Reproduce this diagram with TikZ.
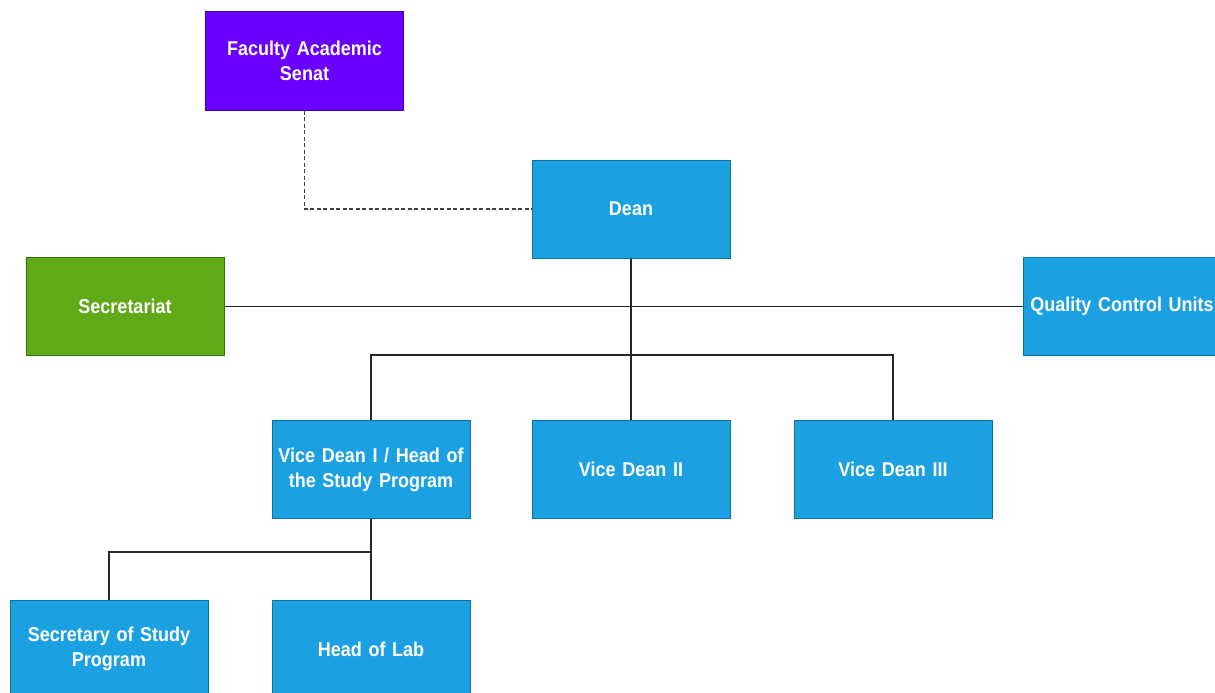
\documentclass[tikz,border=0pt]{standalone}
\usepackage{fontspec}
\setmainfont{Liberation Sans}[FakeStretch=0.9,WordSpace=0.75]
\definecolor{bluefill}{HTML}{1BA1E2}
\definecolor{blueline}{HTML}{10739E}
\definecolor{purplefill}{HTML}{6A00FF}
\definecolor{purpleline}{HTML}{3700CC}
\definecolor{greenfill}{HTML}{60A917}
\definecolor{greenline}{HTML}{2D7600}
\begin{document}
\begin{tikzpicture}[x=1pt,y=-1pt,
  box/.style={draw=blueline, fill=bluefill, line width=1pt, minimum width=198pt, minimum height=98pt,
    text=white, font=\fontsize{20}{25}\selectfont\bfseries, align=center, inner sep=0pt, text width=194pt},
  purplebox/.style={box, fill=purplefill, draw=purpleline},
  greenbox/.style={box, fill=greenfill, draw=greenline},
  conn/.style={draw=black!85, line width=1.7pt},
  dashconn/.style={draw=black!75, line width=1.6pt, dash pattern=on 4pt off 2.5pt}]
\useasboundingbox (0,0) rectangle (1215,693);
\clip (0,0) rectangle (1215,693);
\fill[white] (0,0) rectangle (1215,693);
\node[purplebox] (senat) at (304.5,61) {Faculty Academic\\Senat};
\node[box] (dean) at (631,209) {Dean};
\node[greenbox] (sec) at (125,306.5) {Secretariat};
\node[box] (qcu) at (1122,306.5) {Quality Control Units};
\node[box] (vd1) at (371,469.5) {Vice Dean I / Head of\\the Study Program};
\node[box] (vd2) at (631,469.5) {Vice Dean II};
\node[box] (vd3) at (893,469.5) {Vice Dean III};
\node[box] (sosp) at (109,649) {Secretary of Study\\Program};
\node[box] (lab) at (371,649) {Head of Lab};
\coordinate (busA) at (631,355);
\coordinate (busB) at (371,552);
\draw[dashconn] (senat.south) |- (dean.west);
\draw[conn] (sec.east) -- (qcu.west);
\draw[conn] (vd1.north) |- (busA) -| (vd3.north);
\draw[conn] (dean.south) -- (vd2.north);
\draw[conn] (vd1.south) -- (lab.north);
\draw[conn] (busB) -| (sosp.north);
\end{tikzpicture}
\end{document}
